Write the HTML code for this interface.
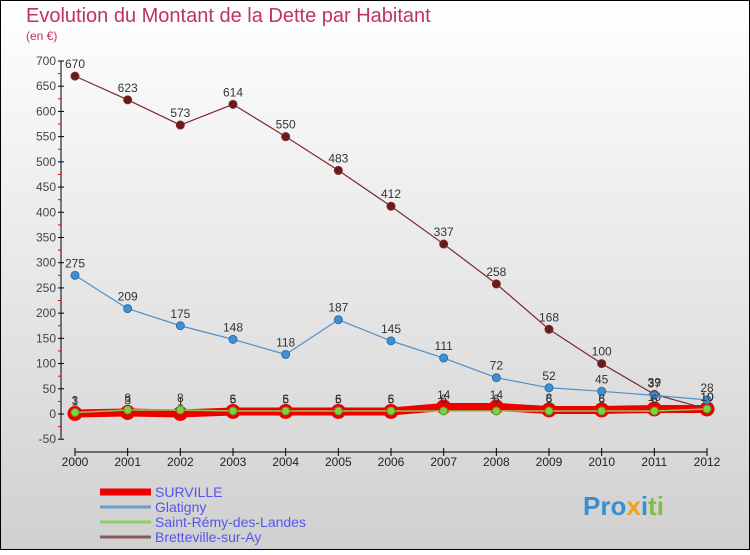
<!DOCTYPE html>
<html><head><meta charset="utf-8"><style>
html,body{margin:0;padding:0}
body{width:750px;height:550px;overflow:hidden;font-family:"Liberation Sans",sans-serif}
</style></head><body>
<svg id="chart" width="750" height="550" xmlns="http://www.w3.org/2000/svg" font-family="Liberation Sans, sans-serif">
<defs><linearGradient id="bg" x1="0" y1="0" x2="0" y2="1"><stop offset="0" stop-color="#ffffff"/><stop offset="1" stop-color="#d0d0d0"/></linearGradient></defs>
<rect x="0.5" y="0.5" width="749" height="549" fill="url(#bg)" stroke="#000"/>
<text x="26" y="22" font-size="20" fill="#c0306a">Evolution du Montant de la Dette par Habitant</text>
<text x="26" y="40" font-size="12" fill="#c0306a">(en €)</text>
<g id="axes"></g><g id="series"></g><g id="legend"></g>
<text x="583" y="515" font-size="26" font-weight="bold" fill="#3a8fd0">Pro<tspan fill="#f0a020">x</tspan><tspan fill="#3a8fd0">i</tspan><tspan fill="#80c040">ti</tspan></text>
</svg>
<script>
const years=[2000,2001,2002,2003,2004,2005,2006,2007,2008,2009,2010,2011,2012];
const yTicks=[-50,0,50,100,150,200,250,300,350,400,450,500,550,600,650,700];
const surville=[1,3,1,5,5,5,5,14,14,8,8,10,10];
const glatigny=[275,209,175,148,118,187,145,111,72,52,45,37,28];
const saintRemy=[3,8,8,6,6,6,6,6,6,6,6,6,10];
const bretteville=[670,623,573,614,550,483,412,337,258,168,100,39,10];
const NS='http://www.w3.org/2000/svg';
const X=i=>75+i*(707-75)/12;
const Y=v=>414-v*(414-61)/700;
function mk(tag,attrs,parent,txt){const e=document.createElementNS(NS,tag);for(const k in attrs)e.setAttribute(k,attrs[k]);if(txt!==undefined)e.textContent=txt;parent.appendChild(e);return e;}
const ax=document.getElementById('axes');
let l=mk('line',{x1:61,y1:Y(700),x2:61,y2:Y(-50),stroke:'#000'},ax);


yTicks.forEach(t=>{
 mk('line',{x1:58,y1:Y(t),x2:64,y2:Y(t),stroke:'#000'},ax);
 if(t<700) mk('line',{x1:58,y1:Y(t+25),x2:61,y2:Y(t+25),stroke:'#e00'},ax);
 const tx=mk('text',{x:56,y:Y(t)+4,'font-size':12,fill:'#444','text-anchor':'end'},ax,String(t));
 
 
});
const xa=mk('line',{x1:75,y1:452,x2:707,y2:452,stroke:'#000'},ax);


years.forEach((yr,i)=>{
 mk('line',{x1:X(i),y1:448,x2:X(i),y2:456,stroke:'#000'},ax);
 const tx=mk('text',{x:X(i),y:466,'font-size':12,fill:'#222','text-anchor':'middle'},ax,String(yr));
 
 
});
const sg=document.getElementById('series');
function series(name,data,color,w,r,fillc,strokec,labels){
 const g=mk('g',{},sg);
 
 
 mk('polyline',{points:data.map((v,i)=>X(i)+','+Y(v)).join(' '),fill:'none',stroke:color,'stroke-width':w,'stroke-linejoin':'round'},g);
 data.forEach((v,i)=>{
  const c=mk('circle',{cx:X(i),cy:Y(v),r:r,fill:fillc,stroke:strokec,'stroke-width':1},g);
  
  
  if(labels){const t=mk('text',{x:X(i),y:Y(v)-8,'font-size':12,fill:'#333','text-anchor':'middle'},g,String(v));
  
  }
 });
}
series('surville',surville,'#ee0000',8,7,'#ee0000','#ee0000',true);
series('bretteville',bretteville,'#7a2a2a',1.2,4,'#6a1a1a','#7a2a2a',true);
series('glatigny',glatigny,'#5090c8',1.2,4,'#4090d0','#2a70b0',true);
series('saint-remy',saintRemy,'#90c850',1.5,4,'#80d040','#609030',true);
const lg=document.getElementById('legend');
const items=[['SURVILLE','#ee0000',7],['Glatigny','#6a9ec8',3],['Saint-Rémy-des-Landes','#90d060',3],['Bretteville-sur-Ay','#8a5a5a',3]];
items.forEach((it,i)=>{
 const y=492+i*15;
 const g=mk('g',{},lg);
 
 
 mk('line',{x1:100,y1:y,x2:151,y2:y,stroke:it[1],'stroke-width':it[2]},g);
 mk('text',{x:155,y:y+5,'font-size':14,fill:'#5555ee'},g,it[0]);
});
</script>
</body></html>
